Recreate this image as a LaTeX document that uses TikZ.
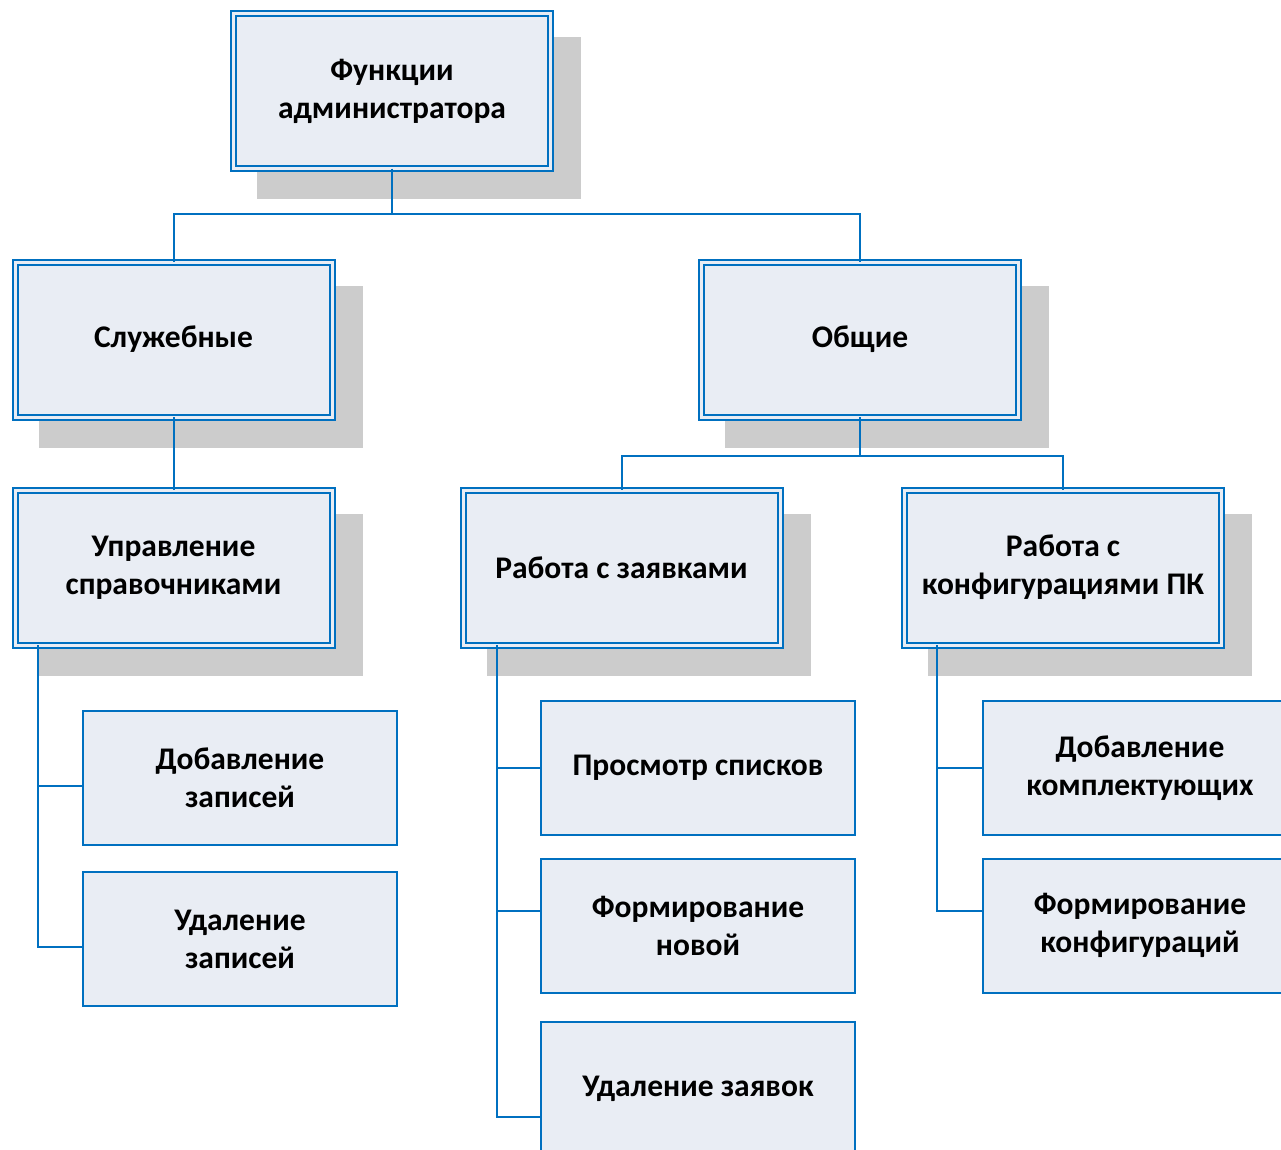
\documentclass[tikz,border=0pt]{standalone}
\usepackage{fontspec}
\setmainfont{Carlito}
\usetikzlibrary{positioning, calc, shadows}
\definecolor{lineblue}{RGB}{0,112,192}
\definecolor{boxfill}{RGB}{233,237,244}
\definecolor{shadowgray}{RGB}{204,204,204}
\newcommand\wa{317pt}
\newcommand\ha{155pt}
\newcommand\wb{314pt}
\newcommand\hb{134pt}

\begin{document}
\begin{tikzpicture}[x=1pt, y=-1pt,
    every node/.style={font=\fontsize{31.5}{38}\selectfont\bfseries, align=center, outer sep=0pt},
    upbox/.style={draw=lineblue, line width=2pt, double=boxfill, double distance=3pt, fill=boxfill,
        minimum width=\wa, minimum height=\ha,
        drop shadow={shadow xshift=27pt, shadow yshift=-27pt, fill=shadowgray, draw=shadowgray, line width=7pt, opacity=1}},
    lowbox/.style={draw=lineblue, line width=2pt, fill=boxfill, minimum width=\wb, minimum height=\hb},
    link/.style={draw=lineblue, line width=2pt}]
    \path[use as bounding box] (0,0) rectangle (1281,1149);
    \clip (0,0) rectangle (1281,1149);

    % \draw[help lines] (0,0) grid[step=100] (1281,1149);

    \node (1) [upbox] at (392,91) {Функции\\администратора};
    \node (2) [upbox] at (173.5,339.5) {Служебные};
    \node (3) [upbox, right=369.5pt of 2] {Общие};
    \node (4) [upbox, below=73pt of 2] {Управление\\справочниками};
    \node (5) [upbox, right=131pt of 4] {Работа с заявками};
    \node (6) [upbox, right=124.5pt of 5] {Работа с\\конфигурациями ПК};

    \node (7) [lowbox] at (240,777.5) {Добавление\\записей};
    \node (8) [lowbox, below=27.5pt of 7] {Удаление\\записей};
    \node (9) [lowbox] at (698,768) {Просмотр списков};
    \node (10) [lowbox, below=23.5pt of 9] {Формирование\\новой};
    \node (11) [lowbox, below=29.5pt of 10] {Удаление заявок};
    \node (12) [lowbox, right=128pt of 9] {Добавление\\комплектующих};
    \node (13) [lowbox, below=23.5pt of 12] {Формирование\\конфигураций};

    \coordinate (b1) at (392,214);
    \coordinate (b2) at (860,456);
    \draw[link] (1) -- (b1) -| (2);
    \draw[link] (b1) -| (3);
    \draw[link] (2) -- (4);
    \draw[link] (3) -- (b2) -| (5);
    \draw[link] (b2) -| (6);

    \coordinate (s1) at (38,0);
    \coordinate (s2) at (497,0);
    \coordinate (s3) at (937,0);
    \draw[link] (4.south -| s1) |- ([yshift=-8.5pt]7.west);
    \draw[link] (4.south -| s1) |- ([yshift=-8pt]8.west);
    \draw[link] (5.south -| s2) |- (9.west);
    \draw[link] (5.south -| s2) |- ([yshift=14.5pt]10.west);
    \draw[link] (5.south -| s2) |- ([yshift=-28pt]11.west);
    \draw[link] (6.south -| s3) |- (12.west);
    \draw[link] (6.south -| s3) |- ([yshift=14.5pt]13.west);

\end{tikzpicture}
\end{document}
